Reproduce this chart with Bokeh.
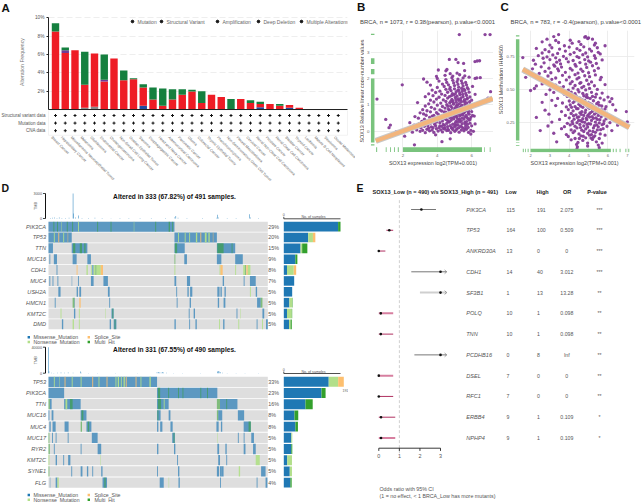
import math
from bokeh.plotting import figure
from bokeh.layouts import column, row
from bokeh.models import Range1d, Label, FixedTicker
from bokeh.core.properties import value
from bokeh.embed import file_html
from bokeh.resources import INLINE

# ---------- panel A ----------
cancers = ["Breast Cancer","Hepatobiliary Cancer","Miscellaneous Neuroepithelial Tumor","Melanoma","Glioblastoma",
 "Endometrial Cancer","Cholangiocarcinoma","Non-Small Cell Lung Cancer","Ovarian Epithelial Tumor","Sarcoma",
 "Esophagogastric Cancer","Head and Neck Cancer","Adrenocortical Carcinoma","Pancreatic Cancer","Glioma",
 "Colorectal Cancer","Thymic Epithelial Tumor","Pheochromocytoma","Non-Seminomatous Germ Cell Tumor","Pleural Mesothelioma",
 "Cervical Cancer","Renal Non-Clear Cell Carcinoma","Prostate Cancer","Renal Clear Cell Carcinoma","Bladder Cancer",
 "Thyroid Cancer","Leukemia","Mature B-Cell Neoplasms","Seminoma","Ocular Melanoma"]
a_gray   = [0,0,0,.2,.3,0,0,.05,0,0,0,0,0,0,0,0,0,0,0,0,0,0,0,0,0,0,0,0,0,0]
a_blue   = [0,0,0,0,0,0,0,0,0,.4,0,0,0,0,0,0,0,0,0,0,0,.25,0,0,.2,0,0,0,0,0]
a_red    = [8.5,6.15,6.45,2.5,5.8,3.05,5.55,3.15,3.3,2.0,1.1,.4,1.1,1.6,1.95,.7,1.6,1.35,0,1.15,.7,.35,.6,.4,.3,.2,0,0,0,0]
a_purple = [0,.3,0,0,0,.2,0,0,0,0,0,0,0,0,0,0,0,0,0,0,0,0,0,0,0,0,0,0,0,0]
a_green  = [.9,.3,0,3.6,0,2.75,0,1.05,.1,.35,1.3,1.9,1.1,.6,.2,1.3,0,0,1.15,0,.3,.25,0,.2,0,0,0,0,0,0]
a_rows = ["Structural variant data","Mutation data","CNA data"]
a_legend = ["Mutation","Structural Variant","Amplification","Deep Deletion","Multiple Alterations"]

# ---------- panel B / C scatter ----------
b_pts = [(2.55,-.03),(3.0,.0),(3.3,-.05),(3.55,.02),(3.8,-.04),(4.05,.01),(4.3,-.02),(4.55,.03),(4.78,-.05),(5.02,.0),(5.27,-.03),(5.55,.02),(5.82,-.04),(6.1,.0),
(2.8,.06),(3.15,.04),(3.4,.08),(3.7,.05),(3.95,.1),(4.2,.06),(4.42,.09),(4.66,.04),(4.9,.07),(5.15,.1),(5.4,.05),(5.7,.08),(5.95,.04),
(2.3,.11),(2.75,.16),(3.05,.13),(3.25,.19),(3.5,.12),(3.65,.17),(3.9,.21),(4.1,.14),(4.25,.19),(4.45,.13),(4.6,.18),(4.75,.22),(4.85,.12),(5.0,.17),(5.1,.23),(5.25,.14),(5.35,.2),(5.5,.12),(5.65,.18),(5.8,.15),(6.0,.21),
(2.65,.24),(2.95,.29),(3.3,.25),(3.6,.31),(3.85,.27),(4.15,.33),(4.35,.26),(4.55,.3),(4.7,.35),(4.9,.27),(5.05,.32),(5.2,.25),(5.32,.36),(5.45,.29),(5.6,.34),(5.75,.26),(5.9,.31),(6.2,.28),
(2.4,.33),(3.1,.38),(3.45,.41),(3.75,.36),(4.0,.43),(4.3,.39),(4.5,.45),(4.65,.37),(4.8,.42),(4.95,.47),(5.1,.38),(5.25,.44),(5.4,.4),(5.55,.46),(5.7,.37),(5.85,.43),
(2.9,.5),(3.25,.46),(3.55,.53),(3.9,.49),(4.2,.55),(4.4,.5),(4.6,.57),(4.85,.52),(5.0,.56),(5.15,.49),(5.3,.58),(5.45,.51),(5.6,.55),(5.78,.48),(5.95,.53),
(2.7,.56),(3.35,.61),(3.7,.58),(4.05,.65),(4.35,.6),(4.55,.67),(4.75,.62),(4.92,.68),(5.08,.61),(5.22,.66),(5.38,.63),(5.52,.69),(5.68,.6),(5.85,.65),(6.15,.58),
(3.0,.7),(3.2,.66),(3.6,.74),(3.95,.71),(4.25,.77),(4.5,.73),(4.7,.79),(4.88,.72),(5.05,.76),(5.2,.71),(5.35,.8),(5.5,.74),(5.65,.78),(5.8,.7),(6.0,.75),
(3.15,.82),(3.4,.78),(3.85,.85),(4.15,.81),(4.45,.88),(4.65,.84),(4.85,.9),(5.0,.83),(5.15,.87),(5.3,.92),(5.48,.85),(5.62,.9),(5.78,.83),(5.95,.88),
(3.3,.96),(3.65,.91),(4.0,.99),(4.3,.94),(4.55,1.01),(4.78,.96),(4.95,1.03),(5.12,.97),(5.28,1.05),(5.42,.99),(5.6,1.02),(5.75,.95),(5.9,1.0),(6.1,.97),
(2.85,1.09),(3.5,1.04),(3.8,1.11),(4.2,1.07),(4.5,1.13),(4.72,1.08),(4.9,1.15),(5.1,1.1),(5.25,1.17),(5.4,1.12),(5.55,1.14),(5.72,1.08),(5.88,1.12),(6.3,1.04),
(3.6,1.18),(3.95,1.22),(4.35,1.19),(4.6,1.26),(4.85,1.21),(5.05,1.28),(5.22,1.23),(5.38,1.27),(5.58,1.2),(5.75,1.25),(6.0,1.18),(6.6,1.12),
(3.3,1.31),(3.75,1.35),(4.1,1.29),(4.45,1.36),(4.7,1.31),(4.95,1.38),(5.15,1.33),(5.32,1.39),(5.5,1.31),(5.7,1.36),(5.9,1.3),(6.95,1.26),
(3.5,1.42),(3.9,1.47),(4.25,1.41),(4.6,1.48),(4.88,1.43),(5.1,1.5),(5.3,1.45),(5.45,1.51),(5.65,1.44),(5.85,1.48),(6.2,1.4),
(3.7,1.56),(4.15,1.52),(4.5,1.59),(4.8,1.54),(5.0,1.61),(5.2,1.56),(5.42,1.62),(5.6,1.55),(5.8,1.6),(7.1,1.5),
(4.0,1.66),(4.4,1.7),(4.75,1.66),(5.0,1.73),(5.25,1.67),(5.5,1.72),(5.75,1.65),(6.05,1.7),
(3.6,1.75),(4.3,1.79),(4.65,1.76),(4.95,1.83),(5.2,1.78),(5.45,1.82),(5.7,1.76),
(3.4,1.86),(4.1,1.9),(4.55,1.85),(4.9,1.93),(5.15,1.88),(5.4,1.91),(5.65,1.85),
(3.2,1.98),(4.0,2.0),(4.5,1.96),(4.85,2.03),(5.2,1.97),(5.5,2.02),(5.85,2.05),
(3.95,2.08),(4.45,2.12),(4.9,2.09),(5.3,2.14),(5.6,2.1),(4.75,2.18),(5.15,2.2),(6.3,2.02),(6.2,2.0),(6.5,2.03),
(5.28,3.66),(6.78,3.66),(7.07,3.66),(4.70,2.72),(5.08,2.72),(5.21,2.60),(5.53,2.57),(6.19,2.64),(6.32,2.66),(6.46,2.67),(4.06,2.32),(4.50,2.29),(4.56,2.34),(5.59,2.30),(1.96,1.76),(0.49,1.22),(1.0,.45),(1.27,.24),(1.19,.14),(2.67,-.51),(4.27,-.39),(4.75,-.28),(1.6,-.02),(2.1,-.18),(3.9,-.13),(5.95,-.1),
(4.62,.08),(4.82,.15),(5.03,.24),(5.18,.36),(5.42,.17),(5.63,.27),(5.3,.46),(5.48,.63),(5.12,.56),(4.98,.71),(4.72,.52),(4.58,.42),(4.42,.23),(4.28,.54),(5.72,.53),(5.58,.72),(5.28,.78),(5.05,.9),(4.82,.78),(4.62,.95),(5.42,.91),(5.68,.95),(5.82,.77),(5.18,1.0),(4.92,1.09),(5.35,1.2),(5.6,1.12),(5.08,1.2),(4.78,1.13),(5.48,1.4),(5.25,1.55),(5.05,1.42),(4.82,1.35),(5.72,1.22),(5.55,1.6),(4.72,1.6),(5.1,.06),(5.6,.09),(4.35,.11),(4.15,.21),(3.75,.14),(3.45,.22),(3.2,.33),(3.55,.39),(3.95,.35),(4.1,.48),(3.8,.6),(4.4,.74),(5.9,.45),(6.05,.6)]
b_x = [v[0] for v in b_pts]
b_y = [v[1] for v in b_pts]
b_line_x = [0.42,7.22]
b_line_y = [-.36,1.24]
b_rug_left = [(3.64,3.69),(2.55,2.76),(2.16,2.36),(-.42,2.0),(-.53,-.49)]
b_rug_bottom = [(.44,.5),(1.0,1.05),(1.25,1.3),(1.48,1.53),(1.7,1.76),(2.0,6.6),(6.72,6.76),(7.05,7.1)]
c_pts = [(4.4,.045),(4.42,.062),(5.55,.055),(4.38,.08),(5.5,.075),(4.95,.068),
(3.35,.1),(4.1,.115),(4.45,.095),(4.7,.11),(4.95,.09),(5.2,.118),(5.4,.1),(5.7,.09),(3.95,.14),(4.3,.125),(4.6,.145),(4.85,.13),(5.05,.15),(5.25,.135),(5.55,.125),
(3.2,.165),(3.85,.155),(4.2,.17),(4.5,.16),(4.75,.178),(4.95,.165),(5.15,.155),(5.35,.172),(5.6,.16),(5.85,.15),(2.5,.185),(3.6,.2),(4.1,.19),(4.4,.205),(4.65,.188),(4.85,.198),(5.05,.183),(5.25,.205),(5.45,.19),(5.75,.2),(6.2,.185),
(2.9,.22),(3.75,.215),(4.05,.228),(4.3,.218),(4.55,.232),(4.75,.22),(4.95,.212),(5.1,.235),(5.3,.222),(5.5,.214),(5.7,.23),(5.95,.218),(6.5,.226),(3.1,.25),(3.9,.24),(4.15,.255),(4.4,.245),(4.6,.26),(4.8,.248),(5.0,.238),(5.15,.262),(5.35,.25),(5.55,.243),(5.8,.258),(6.1,.245),(7.0,.252),
(2.3,.285),(3.5,.27),(4.0,.282),(4.25,.272),(4.5,.29),(4.7,.275),(4.9,.268),(5.05,.288),(5.25,.278),(5.45,.27),(5.65,.29),(5.9,.275),(6.3,.28),(2.95,.31),(3.8,.3),(4.1,.315),(4.35,.305),(4.55,.32),(4.75,.3),(4.95,.298),(5.1,.322),(5.3,.31),(5.5,.3),(5.75,.318),(6.0,.305),
(2.75,.34),(3.6,.33),(3.95,.345),(4.2,.335),(4.45,.352),(4.65,.33),(4.85,.34),(5.05,.355),(5.2,.332),(5.4,.345),(5.6,.335),(5.85,.35),(6.4,.34),(6.95,.33),(3.3,.375),(3.85,.365),(4.05,.38),(4.3,.368),(4.5,.385),(4.7,.362),(4.9,.375),(5.1,.388),(5.3,.365),(5.55,.378),(5.9,.368),(6.25,.382),
(2.6,.4),(3.1,.415),(3.65,.395),(4.0,.41),(4.2,.398),(4.4,.42),(4.6,.402),(4.8,.415),(5.0,.396),(5.25,.412),(5.5,.4),(5.8,.418),(6.1,.405),(3.4,.43),(3.9,.445),(4.15,.435),(4.35,.448),(4.55,.432),(4.75,.45),(4.95,.436),(5.2,.445),(5.6,.432),(6.0,.44),(6.2,.428),
(2.8,.46),(3.2,.475),(3.75,.462),(4.1,.478),(4.3,.465),(4.5,.48),(4.7,.468),(4.9,.458),(5.15,.476),(5.4,.462),(5.7,.47),(2.0,.49),(2.2,.505),(3.0,.495),(3.55,.51),(3.95,.492),(4.2,.508),(4.45,.496),(4.65,.512),(4.85,.494),(5.05,.506),(5.45,.498),
(2.3,.525),(2.6,.54),(3.3,.53),(3.7,.52),(4.05,.542),(4.3,.528),(4.55,.545),(4.75,.522),(5.0,.538),(5.3,.526),(5.85,.535),(2.7,.56),(3.1,.575),(3.5,.552),(3.85,.57),(4.15,.558),(4.4,.578),(4.6,.55),(4.9,.568),(5.15,.555),(5.6,.572),
(1.75,.59),(2.9,.6),(3.3,.585),(3.65,.605),(4.0,.592),(4.3,.61),(4.5,.588),(4.8,.602),(5.05,.595),(5.35,.608),(5.65,.59),(1.7,.63),(2.45,.62),(2.75,.635),(3.05,.625),(3.45,.64),(3.8,.628),(4.15,.645),(4.45,.622),(4.7,.636),(5.0,.625),(5.3,.64),
(2.1,.655),(2.55,.67),(2.95,.66),(3.25,.675),(3.4,.655),(3.6,.668),(4.05,.658),(4.35,.675),(4.6,.652),(4.9,.665),(5.2,.678),(5.5,.66),(2.25,.69),(2.7,.7),(3.2,.685),(3.35,.705),(3.55,.692),(3.95,.708),(4.3,.688),(4.55,.702),(4.85,.69),(5.1,.705),(5.4,.695),
(2.15,.72),(2.65,.735),(3.0,.725),(3.3,.738),(3.5,.72),(3.85,.732),(4.2,.718),(4.5,.74),(4.8,.725),(5.0,.715),(5.35,.735),(5.7,.722),(1.6,.74),(2.4,.755),(2.85,.745),(3.15,.76),(3.7,.75),(4.05,.765),(4.4,.748),(4.7,.762),(4.95,.745),(5.3,.755),(5.6,.768),
(2.6,.775),(2.95,.785),(3.4,.772),(3.8,.79),(4.25,.778),(4.55,.795),(4.85,.775),(5.15,.79),(5.5,.78),(2.3,.81),(2.75,.8),(3.1,.815),(3.5,.805),(4.0,.82),(4.4,.808),(4.75,.822),(5.05,.805),(5.45,.815),
(2.6,.86),(3.0,.835),(3.75,.83),(4.15,.85),(4.6,.84),(5.3,.835),(5.35,.85),(5.85,.83),(2.85,.88),(3.3,.87),(3.45,.855),(4.05,.872),(4.5,.862),(5.2,.88),(3.2,.9),(4.8,.895),(4.95,.885),(3.45,.915),(4.85,.9),(5.0,.89),
(4.52,.125),(4.72,.142),(5.12,.128),(5.32,.145),(4.28,.182),(4.58,.208),(4.92,.232),(5.22,.178),(5.42,.228),(5.62,.192),(4.18,.238),(4.48,.262),(4.68,.252),(4.88,.28),(5.18,.292),(5.38,.282),(5.58,.268),(5.78,.238),(4.22,.298),(4.42,.285),(4.62,.308),(4.82,.322),(5.02,.31),(5.22,.342),(5.42,.322),(5.68,.342),(4.12,.362),(4.38,.352),(4.58,.372),(4.78,.39),(4.98,.362),(5.18,.38),(5.42,.39),(5.68,.372),(4.28,.41),(4.48,.432),(4.68,.418),(4.88,.44),(5.08,.43),(5.35,.44)]
c_x = [v[0] for v in c_pts]
c_y = [v[1] for v in c_pts]
c_line_x = [1.6,7.1]
c_line_y = [.65,.21]
c_rug_left = [(.07,.075),(.09,.095),(.11,.88),(.9,.91)]
c_rug_bottom = [(1.6,1.65),(1.72,1.76),(1.85,1.9),(2.0,6.15),(6.25,6.3),(6.4,6.45),(6.6,6.65),(6.9,6.95),(7.05,7.1)]

# ---------- panel D: runs of samples per gene (start, end, variant) ----------
d1_genes = ["PIK3CA","TP53","TTN","MUC16","CDH1","MUC4","USH2A","HMCN1","KMT2C","DMD"]
d1_pct = ["29%","20%","15%","9%","8%","7%","5%","5%","5%","5%"]
d1_PIK3CA = [(0,282,"M"),(11,13,"H"),(19,21,"H"),(41,43,"H"),(53,55,"H"),(66,68,"N"),(109,111,"H"),(139,141,"H"),(239,241,"H"),(269,272,"H"),(277,279,"H"),(28,29,"N"),(191,192,"N")]
d1_TP53 = [(0,52,"M"),(12,14,"N"),(22,24,"S"),(33,35,"N"),(43,44,"S"),(282,377,"M"),(290,292,"N"),(305,307,"N"),(315,317,"N"),(330,333,"N"),(340,342,"S"),(350,354,"N"),(358,361,"N"),(368,369,"S")]
d1_TTN = [(0,10,"M"),(52,87,"M"),(55,60,"H"),(70,75,"H"),(80,83,"H"),(282,305,"M"),(283,288,"H"),(377,418,"M"),(378,392,"H"),(410,412,"H")]
d1_MUC16 = [(2,4,"M"),(12,19,"M"),(54,63,"M"),(87,95,"M"),(282,284,"H"),(304,310,"M"),(377,387,"M"),(418,435,"M")]
d1_CDH1 = [(18,20,"M"),(63,65,"S"),(85,88,"N"),(95,97,"N"),(98,101,"M"),(101,105,"N"),(105,107,"H"),(107,117,"N"),(117,122,"S"),(282,284,"N"),(383,385,"N"),(385,390,"S"),(418,420,"N"),(436,440,"N"),(440,442,"H"),(443,446,"S"),(446,452,"N")]
d1_MUC4 = [(2,4,"M"),(9,11,"M"),(20,22,"M"),(52,53,"M"),(66,68,"M"),(95,101,"M"),(123,133,"M"),(282,286,"M"),(310,317,"M"),(390,393,"M"),(437,439,"M"),(451,464,"M")]
d1_USH2A = [(22,27,"M"),(63,66,"M"),(69,73,"M"),(133,137,"M"),(286,288,"M"),(311,314,"M"),(317,322,"M"),(378,383,"M"),(385,388,"M"),(394,397,"M"),(451,453,"N"),(464,467,"M")]
d1_HMCN1 = [(14,16,"M"),(54,58,"H"),(58,59,"M"),(69,72,"S"),(136,138,"M"),(287,289,"M"),(316,319,"M"),(379,382,"M"),(392,396,"M"),(467,475,"M"),(475,479,"H")]
d1_KMT2C = [(27,29,"N"),(57,60,"M"),(68,70,"N"),(127,128,"N"),(141,146,"M"),(143,145,"H"),(314,316,"M"),(325,328,"M"),(421,423,"M"),(430,431,"N"),(479,483,"M")]
d1_DMD = [(30,33,"M"),(54,57,"N"),(68,70,"N"),(137,140,"M"),(146,152,"M"),(148,150,"H"),(282,285,"M"),(315,317,"M"),(329,332,"M"),(382,384,"N"),(391,394,"M"),(425,427,"N"),(466,468,"M"),(478,480,"N"),(487,491,"M")]
d1_runs = [d1_PIK3CA,d1_TP53,d1_TTN,d1_MUC16,d1_CDH1,d1_MUC4,d1_USH2A,d1_HMCN1,d1_KMT2C,d1_DMD]
d1_M = [136,61,42,29,8,26,21,14,8,13]
d1_N = [0,12,4,0,17,0,0,7,12,4]
d1_S = [0,6,0,0,6,0,0,0,0,0]
d1_H = [6,0,13,5,0,0,0,1,1,3]
d1_tmb_x = [4,9,14,19,24,30,38,46,55,56,60,67,75,90,104,120,140,160,180,205,230,262,283,285,290,310,345,377,378,380,400,420,450,452,470]
d1_tmb_y = [60,90,110,70,130,60,50,90,3000,600,110,350,70,60,90,50,40,50,50,60,50,50,140,300,90,60,50,100,450,130,60,50,500,120,60]

d2_genes = ["TP53","PIK3CA","TTN","MUC16","MUC4","MUC17","RYR2","KMT2C","SYNE1","FLG"]
d2_pct = ["33%","23%","16%","8%","8%","5%","5%","5%","5%","4%"]
d2_TP53 = [(0,243,"M"),(12,14,"N"),(24,25,"N"),(36,38,"S"),(52,54,"N"),(72,74,"N"),(98,100,"S"),(112,114,"N"),(130,132,"S"),(150,152,"N"),(155,158,"N"),(162,164,"N"),(168,171,"N"),(173,175,"S"),(195,197,"S"),(206,208,"N"),(226,229,"N")]
d2_PIK3CA = [(0,35,"M"),(243,378,"M"),(245,250,"H"),(268,270,"H"),(290,292,"H"),(300,302,"H"),(340,342,"H"),(355,357,"H")]
d2_TTN = [(0,3,"H"),(3,7,"M"),(35,72,"M"),(38,42,"N"),(48,54,"H"),(243,269,"M"),(245,252,"H"),(258,260,"N"),(377,384,"H"),(384,423,"M"),(398,400,"H")]
d2_MUC16 = [(0,2,"M"),(7,11,"M"),(72,85,"M"),(74,78,"H"),(243,251,"M"),(244,246,"H"),(269,273,"M"),(377,380,"H"),(380,389,"M"),(424,438,"M")]
d2_MUC4 = [(2,5,"M"),(9,16,"M"),(36,45,"M"),(72,75,"H"),(85,96,"M"),(88,91,"H"),(243,246,"M"),(250,255,"M"),(273,278,"M"),(376,381,"M"),(386,389,"M"),(437,453,"M"),(448,453,"H")]
d2_MUC17 = [(0,2,"H"),(8,10,"M"),(16,18,"M"),(43,45,"M"),(97,110,"M"),(277,283,"M"),(280,282,"H"),(378,379,"N"),(424,426,"M"),(437,439,"M"),(454,460,"M")]
d2_RYR2 = [(0,3,"H"),(12,14,"M"),(72,74,"M"),(110,118,"M"),(243,246,"M"),(281,284,"M"),(378,382,"M"),(396,399,"M"),(437,441,"M"),(458,464,"M")]
d2_KMT2C = [(0,2,"N"),(16,19,"M"),(33,35,"M"),(44,49,"M"),(116,117,"N"),(288,290,"M"),(380,384,"M"),(398,400,"M"),(464,473,"N")]
d2_SYNE1 = [(0,2,"H"),(51,53,"M"),(72,76,"M"),(86,89,"M"),(98,100,"M"),(118,121,"M"),(243,245,"M"),(290,293,"M"),(377,382,"M"),(384,388,"M"),(388,392,"M"),(426,429,"N"),(476,486,"M")]
d2_FLG = [(3,4,"M"),(16,20,"M"),(20,23,"N"),(121,131,"M"),(125,128,"H"),(249,258,"M"),(269,270,"N"),(291,294,"M"),(384,386,"M"),(466,468,"M"),(486,490,"M")]
d2_runs = [d2_TP53,d2_PIK3CA,d2_TTN,d2_MUC16,d2_MUC4,d2_MUC17,d2_RYR2,d2_KMT2C,d2_SYNE1,d2_FLG]
d2_M = [143,120,69,34,37,24,24,11,19,21]
d2_N = [30,0,0,0,0,3,0,15,7,0]
d2_S = [18,0,0,0,0,0,0,0,0,0]
d2_H = [0,13,23,12,8,0,3,0,0,4]
d2_tmb_x = [0,1,6,12,20,28,36,44,55,72,73,90,110,150,200,243,246,248,252,255,258,264,280,300,340,378,380,382,385,390,400,420,440,470]
d2_tmb_y = [40000,3000,600,500,700,900,600,1200,800,2500,800,500,400,300,300,1500,2000,1200,1000,2000,900,700,400,300,200,2500,3500,2500,1500,800,500,400,300,200]

# ---------- panel E ----------
e_genes = ["PIK3CA","TP53","ANKRD30A","CDH1","SF3B1","POLQ","TNN","PCDHB16","DSEL","RFC1","ERBB4","NPHP4"]
e_low = ["115","164","13","14","1","10","10","0","7","7","9","9"]
e_high = ["191","100","0","40","13","1","1","8","0","0","1","1"]
e_or = ["2.075","0.509","0","3.012","13.28","0.098","0.098","Inf","0","0","0.109","0.109"]
e_p = ["***","***","***","***","**","**","**","**","**","**","*","*"]
e_dot = [2.07,.51,0,3,3,.098,.098,3,0,0,.109,.109]
e_lo = [1.57,.37,0,1.58,2.0,0,0,1.73,0,0,0,0]
e_hi = [2.78,.7,.32,3.3,3.3,.7,.7,3.3,.7,.7,.8,.8]
e_pale = [0,0,0,0,1,1,0,0,1,0,0,1]

FONT = "Liberation Sans"
GRAY = "#555555"

def lab(p, ox, oy, text, x, y, size=5.4, color=GRAY, bold=False, italic=False, align="left", base="middle", angle=0, font=FONT):
    style = "bold" if bold else ("italic" if italic else "normal")
    p.add_layout(Label(x=x-ox, y=y-oy, x_units="canvas", y_units="canvas", text=text, text_font=font,
        text_font_size=f"{size}px", text_color=color, text_font_style=style, text_align=align,
        text_baseline=base, angle=angle, angle_units="deg"))

def mapped(v0, p0, v1, p1, pa, pb):
    k = (v1-v0)/(p1-p0)
    return Range1d(v0+(pa-p0)*k, v0+(pb-p0)*k)

def blank(w, h, xr, yr):
    p = figure(width=w, height=h, x_range=xr, y_range=yr, output_backend="svg", toolbar_location=None,
               x_axis_location=None, y_axis_location=None, min_border=0, outline_line_color=None)
    p.grid.visible = False
    return p

def strip(x0, y0, w, h, items):
    # a text-only band; items: (text, page x, page y, size, colour, style, align, angle in degrees)
    p = blank(w, h, Range1d(x0, x0+w), Range1d(y0+h, y0))
    for t, x, y, s, c, st, al, an in items:
        p.text(x=[x], y=[y], text=[t], text_font=value(FONT), text_font_size=f"{s}px", text_color=c,
               text_font_style=st, text_align=al, text_baseline="middle", angle=math.radians(an))
    return p

# ---------- A top ----------
A_W, AS_H, AT_H, AB_H = 355, 14, 96, 72
AX = lambda px: (px-55)/9.75
astrip = strip(0, 0, A_W, AS_H, [("A", 1, 7.5, 11.5, "#111111", "bold", "left", 0)])
at = figure(width=A_W, height=AT_H, x_range=Range1d(AX(48), AX(347)), y_range=Range1d(0, (109-14)/9.17),
            output_backend="svg", toolbar_location=None, min_border_left=48, min_border_right=8,
            min_border_top=0, min_border_bottom=1, outline_line_color=None, x_axis_location="below")
xs = list(range(len(cancers)))
stacks = [(a_gray,"#8a8a8a"),(a_blue,"#1f4aa0"),(a_red,"#ee1c25"),(a_purple,"#6f3a95"),(a_green,"#15803f")]
base = [0.0]*len(xs)
for vals, col in stacks:
    top = [b+v for b, v in zip(base, vals)]
    at.vbar(x=xs, width=.76, bottom=base, top=top, fill_color=col, line_color=None)
    base = top
at.xgrid.visible = False
at.ygrid.ticker = FixedTicker(ticks=[2,4,6,8,10])
at.ygrid.grid_line_color = "#e6e6e6"
at.ygrid.grid_line_dash = "6 3"
at.ygrid.grid_line_width = .7
at.yaxis.ticker = FixedTicker(ticks=[2,4,6,8,10])
at.yaxis.major_label_overrides = {2:"2%",4:"4%",6:"6%",8:"8%",10:"10%"}
at.yaxis.bounds = (0,10)
at.yaxis.axis_label = "Alteration Frequency"
at.yaxis.axis_label_text_font = FONT
at.yaxis.axis_label_text_font_size = "5.2px"
at.yaxis.axis_label_text_color = "#777777"
at.yaxis.axis_label_text_font_style = "normal"
at.yaxis.axis_label_standoff = 7
at.yaxis.major_label_text_font = FONT
at.yaxis.major_label_text_font_size = "4.8px"
at.yaxis.major_label_text_color = GRAY
at.yaxis.major_label_standoff = 2
at.yaxis.major_tick_out = 2
at.yaxis.major_tick_in = 0
at.yaxis.minor_tick_line_color = None
at.yaxis.axis_line_width = 1
at.yaxis.axis_line_color = "#222222"
at.yaxis.major_tick_line_color = "#222222"
at.xaxis.ticker = FixedTicker(ticks=[])
at.xaxis.minor_tick_line_color = None
at.xaxis.axis_line_width = 1.2
at.xaxis.axis_line_color = "#222222"
leg_px = [132,161,217,258,301]
at.scatter(x=[AX(v) for v in leg_px], y=[(109-21)/9.17]*5, size=2.6, marker="circle", color="#111111")
at.text(x=[AX(v+5) for v in leg_px], y=[(109-21)/9.17]*5, text=a_legend, text_font=value(FONT), text_font_size="5px",
        text_color="#666666", text_align="left", text_baseline="middle")

# ---------- A bottom ----------
ab = blank(A_W, AB_H, mapped(0,55,1,64.75,0,A_W), mapped(0,115,1,122.6,110+AB_H,110))
ab.quad(left=[AX(48)], right=[AX(347)], top=[-.7], bottom=[2.6], fill_color=None, line_color="#ececec", line_width=.7)
for r, name in enumerate(a_rows):
    ab.scatter(x=xs, y=[r]*len(xs), marker="cross", size=3, line_color="#111111", line_width=1)
ab.text(x=[AX(45)]*3, y=[0,1,2], text=a_rows, text_font=value(FONT), text_font_size="4.5px", text_color=GRAY, text_align="right", text_baseline="middle")
ab.text(x=[i-.4 for i in xs], y=[(136.5-115)/7.6]*len(xs), text=cancers, angle=-45, angle_units="deg", text_font=value(FONT),
        text_font_size="3.7px", text_color="#666666", text_align="left", text_baseline="middle")

# ---------- B / C ----------
def scatter_panel(w, xr, yr, left, right, xt, yt, tick_size, qx, qy, lx_, ly_, rug_l, rug_b, rw, rh, yfmt=None):
    p = figure(width=w, height=129, x_range=xr, y_range=yr, output_backend="svg", toolbar_location=None,
               min_border_left=left, min_border_right=right, min_border_top=0, min_border_bottom=6, outline_line_color=None)
    for ax in (p.xaxis[0], p.yaxis[0]):
        ax.axis_line_color = None
        ax.major_tick_line_color = None
        ax.minor_tick_line_color = None
        ax.major_tick_out = 0
        ax.major_tick_in = 0
        ax.major_label_text_font = FONT
        ax.major_label_text_font_size = f"{tick_size}px"
        ax.major_label_text_color = "#666666"
        ax.major_label_standoff = 1
    p.xaxis.ticker = FixedTicker(ticks=xt)
    p.yaxis.ticker = FixedTicker(ticks=yt)
    if yfmt:
        p.yaxis.major_label_overrides = yfmt
    p.grid.grid_line_color = "#e9e9e9"
    p.grid.grid_line_width = .8
    p.scatter(x=qx, y=qy, size=3.3, marker="circle", fill_color="#853c97", line_color=None, fill_alpha=.95)
    p.line(x=lx_, y=ly_, line_color="#c8c8c8", line_width=6.2, line_cap="butt")
    p.line(x=lx_, y=ly_, line_color="#f3b57c", line_width=4.2, line_cap="butt")
    x0, y0 = xr.start, yr.start
    p.quad(left=[x0+rw*.1]*len(rug_l), right=[x0+rw]*len(rug_l), bottom=[a for a, _ in rug_l], top=[b for _, b in rug_l], fill_color="#79c37d", line_color=None)
    p.quad(left=[a for a, _ in rug_b], right=[b for _, b in rug_b], bottom=[y0+rh*.1]*len(rug_b), top=[y0+rh]*len(rug_b), fill_color="#79c37d", line_color=None)
    return p

bp = scatter_panel(129, mapped(2,401.7,6,471,369,493), mapped(0,131.7,3,51.7,153,30), 5, 0, [2,4,6], [0,1,2,3], 4.4,
    b_x, b_y, b_line_x, b_line_y, b_rug_left, b_rug_bottom, .23, .2)
cp = scatter_panel(139, mapped(2,528.3,7,626.7,513,634), mapped(.25,122.3,.75,56,153,30), 10, 8, [2,3,4,5,6,7], [.25,.5,.75], 4.1,
    c_x, c_y, c_line_x, c_line_y, c_rug_left, c_rug_bottom, .2, .028, yfmt={.25:"0.25",.5:"0.50",.75:"0.75"})
tstrip = strip(355, 0, 287, 30, [("B", 356.5, 6.5, 11.5, "#111111", "bold", "left", 0), ("C", 500, 6.5, 11.5, "#111111", "bold", "left", 0),
    ("BRCA, n = 1073, r = 0.38(pearson), p.value<0.0001", 359.5, 21.5, 5.9, "#444444", "normal", "left", 0),
    ("BRCA, n = 783, r = -0.4(pearson), p.value<0.0001", 510, 21.5, 5.9, "#444444", "normal", "left", 0)])
xstrip = strip(355, 159, 287, 23, [("SOX13 expression log2(TPM+0.001)", 432.5, 162.5, 5.4, "#444444", "normal", "center", 0),
    ("SOX13 expression log2(TPM+0.001)", 574, 162.5, 5.4, "#444444", "normal", "center", 0)])
bl = strip(355, 30, 9, 129, [("SOX13 Relative linear copy-number values", 361, 94, 5.4, "#444444", "normal", "center", 90)])
cl = strip(493, 30, 10, 129, [("SOX13 Methylation (HM450)", 500, 82, 5.4, "#444444", "normal", "center", 90)])

# ---------- D ----------
CELL = {"M":"#1f78b4","N":"#b2df8a","S":"#fdbf6f","H":"#33a02c"}
D_W = 348
def onco(oy, h, row0, rowh, genes, pct, runs, m, n, s, h_, tmx, tmy, tmb_max, tmb0, tmb1, bar_max, bar_px, title, title_y, axis_y, leg_y, letter):
    sx = lambda px: (px-48)*491/219.3
    p = blank(D_W, h, mapped(0,48,491,267.3,0,D_W), mapped(0,row0,1,row0+rowh,oy+h,oy))
    p.extra_y_ranges = {"tmb": mapped(0,tmb0,tmb_max,tmb1,oy+h,oy)}
    p.extra_x_ranges = {"bars": mapped(0,283.3,bar_max,bar_px,0,D_W)}
    g = len(genes)
    p.quad(left=[0]*g, right=[491]*g, top=[i+.04 for i in range(g)], bottom=[i+.96 for i in range(g)], fill_color="#dedede", line_color=None)
    for i, rr in enumerate(runs):
        for k in "MNSH":
            sel = [r for r in rr if r[2] == k]
            if sel:
                p.quad(left=[r[0] for r in sel], right=[r[1] for r in sel], top=[i+.04]*len(sel), bottom=[i+.96]*len(sel),
                       fill_color=CELL[k], fill_alpha=.68 if k == "M" else (.55 if k == "H" else .95), line_color=None)
        lab(p, 0, oy, genes[i], 45.5, row0+rowh*(i+.5), size=5.6, italic=True, align="right")
        lab(p, 0, oy, pct[i], 267.8, row0+rowh*(i+.5), size=5.4)
    p.vbar(x=tmx, width=1.3, bottom=0, top=tmy, y_range_name="tmb", fill_color="#3d8fc4", line_color=None)
    p.segment(x0=[sx(45)], x1=[sx(45)], y0=[0], y1=[tmb_max], y_range_name="tmb", line_color="#111111", line_width=1)
    p.segment(x0=[sx(42.5)]*2, x1=[sx(45)]*2, y0=[0,tmb_max], y1=[0,tmb_max], y_range_name="tmb", line_color="#111111", line_width=.8)
    lab(p, 0, oy, str(tmb_max), 41.5, tmb1, size=3.8, align="right")
    lab(p, 0, oy, "0", 41.5, tmb0, size=3.8, align="right")
    lab(p, 0, oy, "TMB", 35, (tmb0+tmb1)/2, size=3.8, angle=90, align="center")
    base = [0]*g
    for vals, k in ((m,"M"),(n,"N"),(s,"S"),(h_,"H")):
        top = [b+v for b, v in zip(base, vals)]
        p.quad(left=base, right=top, top=[i+.06 for i in range(g)], bottom=[i+.94 for i in range(g)],
               x_range_name="bars", fill_color=CELL[k], line_color=None)
        base = top
    p.segment(x0=[0], x1=[bar_max*56.7/(bar_px-283.3)], y0=[(axis_y-row0)/rowh], y1=[(axis_y-row0)/rowh], x_range_name="bars", line_color="#222222", line_width=.8)
    p.segment(x0=[0], x1=[0], y0=[(axis_y-row0)/rowh], y1=[(axis_y-2-row0)/rowh], x_range_name="bars", line_color="#222222", line_width=.8)
    lab(p, 0, oy, "0", 283.3, axis_y-4.5, size=3.6, align="center")
    lab(p, 0, oy, "No. of samples", 313, axis_y-1.6, size=3.6, align="center")
    lab(p, 0, oy, title, 174, title_y, size=6.6, color="#111111", bold=True, align="center")
    for k, lx, tx, ly, t in (("M",28.3,33,leg_y,"Missense_Mutation"),("S",88.3,94,leg_y,"Splice_Site"),
                             ("N",28.3,33,leg_y+4.8,"Nonsense_Mutation"),("H",88.3,94,leg_y+4.8,"Multi_Hit")):
        p.scatter(x=[sx(lx)], y=[(ly-row0)/rowh], marker="square", size=2.4, fill_color=CELL[k], line_color=None)
        lab(p, 0, oy, t, tx, ly, size=5.2)
    if letter:
        lab(p, 0, oy, letter, 1, 187.3, size=10.5, color="#111111", bold=True)
    return p

D1_Y, D2_Y = 182, 344
d1 = onco(D1_Y, D2_Y-D1_Y, 220.7, 10.86, d1_genes, d1_pct, d1_runs, d1_M, d1_N, d1_S, d1_H, d1_tmb_x, d1_tmb_y, 3000, 218, 193, 142, 340,
          "Altered in 333 (67.82%) of 491 samples.", 196, 218.3, 336.7, "D")
d2 = onco(D2_Y, 502-D2_Y, 375.7, 11.2, d2_genes, d2_pct, d2_runs, d2_M, d2_N, d2_S, d2_H, d2_tmb_x, d2_tmb_y, 40000, 372.7, 346.7, 191, 343.3,
          "Altered in 331 (67.55%) of 490 samples.", 349, 373, 494.5, None)
lab(d2, 0, D2_Y, "191", 342, 390, size=3.4)

# ---------- E ----------
E_X = D_W
ep = blank(642-E_X, 502-D1_Y, mapped(0,378.3,3,440,E_X,642), mapped(0,209,1,229.77,502,D1_Y))
n = len(e_genes)
ys = list(range(n))
ep.segment(x0=[1], x1=[1], y0=[-.45], y1=[11.8], line_color="#d0d0d0", line_dash="3 2", line_width=1)
cols = ["#777777" if d > 1 else "#b03060" for d in e_dot]
cols = [("#cfcfcf" if d > 1 else "#d77fa0") if pl else c for c, d, pl in zip(cols, e_dot, e_pale)]
wid = [2 if pl else 1 for pl in e_pale]
ep.segment(x0=e_lo, x1=e_hi, y0=ys, y1=ys, line_color=cols, line_width=wid)
arrows = [i for i in ys if e_hi[i] > 3]
ep.segment(x0=[e_hi[i]-.1 for i in arrows]*2, x1=[e_hi[i] for i in arrows]*2,
           y0=[i-.09 for i in arrows]+[i+.09 for i in arrows], y1=arrows+arrows, line_color="#777777", line_width=.7)
ep.scatter(x=e_dot, y=ys, marker="circle", size=2.6, fill_color="#111111", line_color=None)
ay = (447.7-209)/20.77
ep.segment(x0=[0], x1=[3], y0=[ay], y1=[ay], line_color="#222222", line_width=.9)
ep.segment(x0=[0,1,2,3], x1=[0,1,2,3], y0=[ay]*4, y1=[ay+.13]*4, line_color="#222222", line_width=.9)
for t in range(4):
    lab(ep, E_X, D1_Y, str(t), 378.3+t*20.6, 455.5, size=5.4, align="center")
lab(ep, E_X, D1_Y, "E", 356, 187.3, size=10.5, color="#111111", bold=True)
lab(ep, E_X, D1_Y, "SOX13_Low (n = 490) v/s SOX13_High (n = 491)", 372, 191, size=5.6, color="#222222", bold=True)
for t, x, a in (("Low",505,"left"),("High",536,"left"),("OR",566.5,"center"),("P-value",596.5,"center")):
    lab(ep, E_X, D1_Y, t, x, 191, size=5.5, color="#222222", bold=True, align=a)
for i in ys:
    y = 209+i*20.77
    lab(ep, E_X, D1_Y, e_genes[i], 465.7, y, size=5.6, italic=True)
    lab(ep, E_X, D1_Y, e_low[i], 506, y, size=5.2)
    lab(ep, E_X, D1_Y, e_high[i], 536.5, y, size=5.2)
    lab(ep, E_X, D1_Y, e_or[i], 566.3, y, size=5.2, align="center")
    lab(ep, E_X, D1_Y, e_p[i], 599, y, size=5.2, align="center")
lab(ep, E_X, D1_Y, "Odds ratio with 95% CI", 379, 488.5, size=5.3)
lab(ep, E_X, D1_Y, "(1 = no effect, < 1 BRCA_Low has more mutants)", 379, 495.5, size=5.3)

left_top = column(row(astrip), row(at), row(ab))
right_top = column(tstrip, row(bl, bp, cl, cp), xstrip)
root = column(row(left_top, right_top), row(column(d1, d2), ep))
open("out.html", "w").write(file_html(root, INLINE))
